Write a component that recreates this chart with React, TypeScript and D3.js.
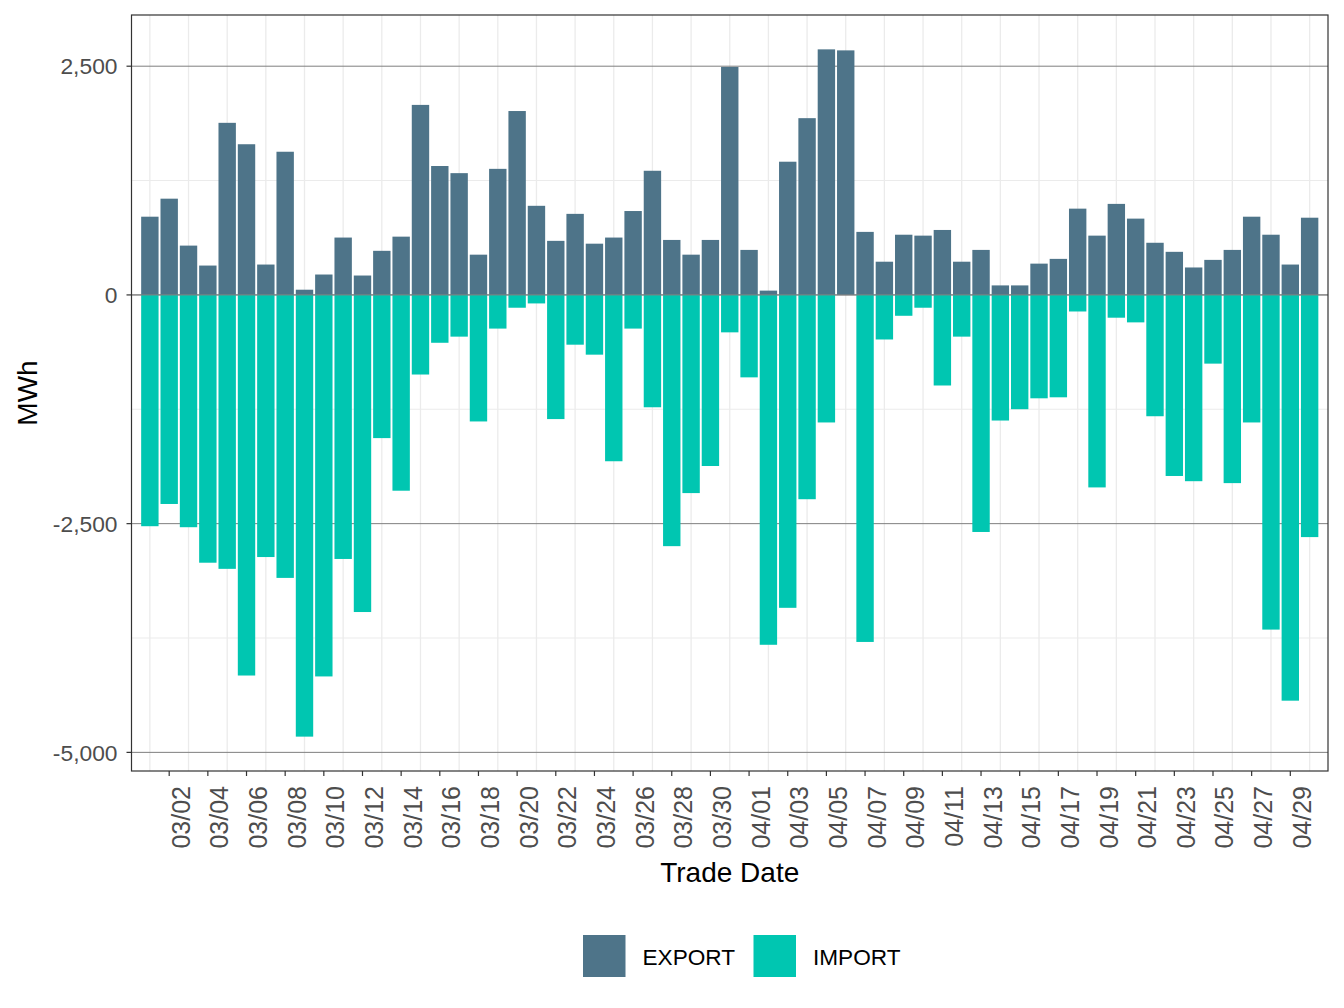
import React from "react";
import * as d3 from "d3";

// Trade dates (MM/DD), one bar pair per day
const tradeDates: string[] = [
  "03/01", "03/02", "03/03", "03/04", "03/05", "03/06", "03/07", "03/08", "03/09", "03/10",
  "03/11", "03/12", "03/13", "03/14", "03/15", "03/16", "03/17", "03/18", "03/19", "03/20",
  "03/21", "03/22", "03/23", "03/24", "03/25", "03/26", "03/27", "03/28", "03/29", "03/30",
  "03/31", "04/01", "04/02", "04/03", "04/04", "04/05", "04/06", "04/07", "04/08", "04/09",
  "04/10", "04/11", "04/12", "04/13", "04/14", "04/15", "04/16", "04/17", "04/18", "04/19",
  "04/20", "04/21", "04/22", "04/23", "04/24", "04/25", "04/26", "04/27", "04/28", "04/29",
  "04/30",
];

// Daily exported energy (MWh)
const exportMWh: number[] = [
  855, 1052, 539, 321, 1881, 1647, 332, 1565, 57, 223,
  627, 212, 482, 637, 2077, 1409, 1331, 440, 1378, 2010,
  974, 591, 886, 560, 627, 917, 1357, 601, 440, 601,
  2492, 492, 47, 1456, 1932, 2684, 2673, 689, 363, 658,
  648, 710, 363, 492, 104, 104, 342, 394, 943, 648,
  995, 834, 570, 471, 300, 383, 492, 855, 658, 332,
  844,
];

// Daily imported energy (MWh, negative)
const importMWh: number[] = [
  -2528, -2285, -2539, -2927, -2994, -4160, -2865, -3093, -4828, -4170,
  -2886, -3466, -1565, -2140, -870, -523, -456, -1383, -368, -140,
  -93, -1357, -544, -653, -1818, -368, -1228, -2746, -2166, -1870,
  -409, -901, -3824, -3420, -2233, -1394, 0, -3793, -487, -228,
  -140, -990, -456, -2591, -1373, -1249, -1130, -1119, -181, -2104,
  -249, -300, -1326, -1979, -2036, -751, -2057, -1394, -3658, -4435,
  -2647,
];

const seriesNames: string[] = ["EXPORT", "IMPORT"];
const seriesColors: string[] = ["#4E7489", "#00C6B1"];

const yBreaks: number[] = [2500, 0, -2500, -5000];
const yMinorBreaks: number[] = [3750, 1250, -1250, -3750];

const W = 1344;
const H = 1008;
const panel = { left: 131.5, right: 1328, top: 15, bottom: 771 };
const FONT = "'Liberation Sans', Arial, Helvetica, sans-serif";

export default function App() {
  const n = tradeDates.length;
  const x = d3.scaleLinear().domain([-0.95, n - 1 + 0.95]).range([panel.left, panel.right]);

  const lo = d3.min(importMWh) as number;
  const hi = d3.max(exportMWh) as number;
  const pad = (hi - lo) * 0.05;
  const y = d3.scaleLinear().domain([lo - pad, hi + pad]).range([panel.bottom, panel.top]);

  const barW = (x(1) - x(0)) * 0.9;
  const fmt = d3.format(",");
  const fmtTick = (v: number) => (v < 0 ? "-" + fmt(-v) : fmt(v));

  const idx = d3.range(n);
  const gridIdx = idx.filter((i) => i % 2 === 0);
  const tickIdx = idx.filter((i) => i % 2 === 1);

  return (
    <svg
      width={W}
      height={H}
      style={{ position: "absolute", left: 0, top: 0, background: "#fff" }}
      fontFamily={FONT}
    >
      <rect x={0} y={0} width={W} height={H} fill="#fff" />
      <defs>
        <clipPath id="panelClip">
          <rect x={panel.left} y={panel.top} width={panel.right - panel.left} height={panel.bottom - panel.top} />
        </clipPath>
      </defs>
      <g clipPath="url(#panelClip)">
        {/* minor horizontal grid */}
        {yMinorBreaks.map((v) => (
          <line key={"ym" + v} x1={panel.left} x2={panel.right} y1={y(v)} y2={y(v)} stroke="#EBEBEB" strokeWidth={1.1} />
        ))}
        {/* vertical grid */}
        {gridIdx.map((i) => (
          <line key={"xg" + i} x1={x(i)} x2={x(i)} y1={panel.top} y2={panel.bottom} stroke="#EBEBEB" strokeWidth={1.3} />
        ))}
        {/* major horizontal grid */}
        {yBreaks.map((v) => (
          <line key={"yM" + v} x1={panel.left} x2={panel.right} y1={y(v)} y2={y(v)} stroke="#7F7F7F" strokeWidth={1} />
        ))}
        {/* export bars */}
        {exportMWh.map((v, i) => (
          <rect key={"e" + i} x={x(i) - barW / 2} width={barW} y={y(v)} height={y(0) - y(v)} fill={seriesColors[0]} />
        ))}
        {/* import bars */}
        {importMWh.map((v, i) => (
          <rect key={"m" + i} x={x(i) - barW / 2} width={barW} y={y(0)} height={y(v) - y(0)} fill={seriesColors[1]} />
        ))}
        <line x1={panel.left} x2={panel.right} y1={y(0)} y2={y(0)} stroke="#7F7F7F" strokeWidth={1} />
      </g>
      <rect
        x={panel.left}
        y={panel.top}
        width={panel.right - panel.left}
        height={panel.bottom - panel.top}
        fill="none"
        stroke="#333333"
        strokeWidth={1.2}
      />

      {/* y axis */}
      {yBreaks.map((v) => (
        <g key={"yt" + v}>
          <line x1={panel.left - 5} x2={panel.left} y1={y(v)} y2={y(v)} stroke="#333333" strokeWidth={1.2} />
          <text x={panel.left - 14} y={y(v)} dy="0.36em" textAnchor="end" fontSize={22.8} fill="#4D4D4D">
            {fmtTick(v)}
          </text>
        </g>
      ))}

      {/* x axis */}
      {tickIdx.map((i) => (
        <g key={"xt" + i}>
          <line x1={x(i)} x2={x(i)} y1={panel.bottom} y2={panel.bottom + 5} stroke="#333333" strokeWidth={1.2} />
          <text
            transform={`translate(${x(i) + 20.5},${panel.bottom + 15}) rotate(-90)`}
            textAnchor="end"
            fontSize={25}
            fill="#4D4D4D"
          >
            {tradeDates[i]}
          </text>
        </g>
      ))}

      {/* axis titles */}
      <text x={(panel.left + panel.right) / 2} y={882} textAnchor="middle" fontSize={28} fill="#000">
        Trade Date
      </text>
      <text transform={`translate(37,${(panel.top + panel.bottom) / 2}) rotate(-90)`} textAnchor="middle" fontSize={28} fill="#000">
        MWh
      </text>

      {/* legend */}
      {seriesNames.map((name, k) => {
        const kx = k === 0 ? 583 : 753.5;
        return (
          <g key={"lg" + name}>
            <rect x={kx} y={935} width={42.5} height={42} fill={seriesColors[k]} />
            <text x={kx + 59.5} y={964.5} fontSize={22.6} fill="#000">
              {name}
            </text>
          </g>
        );
      })}
    </svg>
  );
}
